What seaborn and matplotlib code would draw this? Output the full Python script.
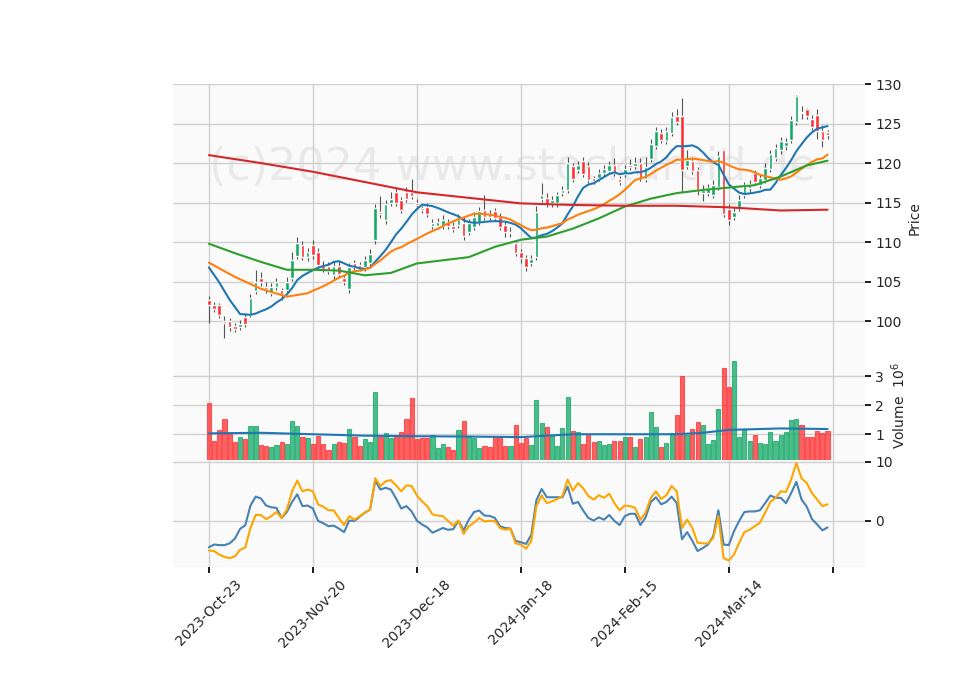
import numpy as np
import pandas as pd
import seaborn as sns
import matplotlib
matplotlib.use("Agg")
import matplotlib.pyplot as plt

# daily OHLC
opens = [102.7,102.0,102.0,100.0,100.0,99.4,99.3,100.5,100.8,103.8,
         105.4,104.3,103.6,104.3,103.9,103.9,105.5,108.3,109.6,108.1,
         109.6,108.7,107.0,107.0,105.8,107.0,105.4,104.1,107.3,107.1,
         106.8,107.3,110.3,113.8,112.8,114.9,116.3,115.3,116.4,116.4,
         115.0,114.3,114.4,112.1,112.1,112.1,112.5,112.1,112.2,112.4,
         111.3,111.9,112.6,114.1,113.6,113.9,113.2,112.2,111.1,109.9,
         108.7,108.0,107.4,108.1,115.5,115.6,114.9,114.9,116.2,116.6,
         119.6,119.1,120.2,119.6,118.1,118.1,118.7,119.0,119.7,118.0,
         118.6,119.7,119.6,120.0,118.0,120.5,122.2,123.8,122.8,123.8,
         126.0,126.0,119.6,120.2,119.1,116.2,116.2,116.0,117.0,121.6,
         114.2,113.2,114.3,116.0,116.8,118.7,117.2,117.9,119.3,120.7,
         121.6,122.1,122.9,125.2,126.5,126.9,125.6,126.1,124.1,123.9]
closes = [102.0,101.6,100.8,99.8,99.2,99.0,99.7,99.7,102.9,104.9,
          104.9,104.1,104.3,104.9,103.4,105.0,107.7,109.9,108.1,108.7,
          108.4,107.1,106.6,106.4,107.0,106.0,105.0,106.8,106.9,106.7,
          107.7,108.5,114.3,113.5,114.8,115.5,115.0,114.1,115.5,115.8,
          114.7,114.1,113.6,112.4,112.6,112.8,112.1,111.7,112.9,110.8,
          112.4,113.2,113.9,113.2,113.2,113.1,111.9,111.3,111.3,108.6,
          108.0,106.8,107.9,113.8,116.0,114.8,115.3,115.9,116.6,120.0,
          118.0,119.7,118.6,117.9,117.7,118.7,119.2,119.7,118.8,117.6,
          119.2,119.5,120.0,118.1,119.5,122.4,124.0,122.9,124.1,125.8,
          125.2,119.1,120.4,119.0,116.6,116.6,116.8,117.2,120.9,113.6,
          112.8,113.8,115.3,117.2,117.4,117.6,118.1,119.4,121.2,121.9,
          122.8,122.7,125.4,128.5,126.3,126.0,124.6,124.0,122.9,123.6]
highs = [103.2,102.4,102.3,100.6,100.4,99.8,100.1,101.0,103.4,106.5,
         106.2,104.9,104.8,105.4,104.2,105.6,108.7,110.6,110.2,109.2,
         110.3,109.2,107.6,107.5,107.6,107.6,105.9,107.3,107.8,107.5,
         108.2,109.1,114.8,115.8,115.3,116.3,116.8,115.7,117.0,118.0,
         115.5,114.6,115.0,112.9,113.1,113.4,112.9,112.6,113.6,113.2,
         112.9,113.8,114.4,116.0,114.0,114.3,113.7,112.6,111.9,110.3,
         109.1,108.4,108.4,114.6,117.5,116.2,115.8,116.4,117.1,120.8,
         120.0,120.2,120.8,120.1,118.4,119.2,119.7,120.2,120.6,118.4,
         119.7,120.5,120.8,120.7,120.8,123.0,124.6,124.3,124.6,126.4,
         126.9,128.2,121.6,120.8,119.5,117.2,117.4,117.8,121.5,121.8,
         114.8,114.5,115.9,117.6,117.9,119.1,118.6,120.0,121.7,122.4,
         123.3,123.2,125.9,128.6,127.2,127.0,126.1,126.8,124.8,124.2]
lows = [99.8,101.2,100.4,97.9,98.7,98.6,98.9,99.2,100.5,103.4,
        104.5,103.6,103.2,103.9,102.7,103.5,105.1,107.9,107.7,107.6,
        107.9,106.7,106.2,106.0,105.3,105.6,104.6,103.6,106.5,106.3,
        106.4,106.9,109.8,113.0,112.3,114.6,114.6,113.7,115.1,115.4,
        114.3,113.7,113.2,111.7,111.7,111.7,111.7,111.3,111.8,110.3,
        110.9,111.5,112.2,112.8,112.8,112.7,111.5,110.6,110.7,108.2,
        107.4,106.3,107.0,107.8,115.1,114.4,114.5,114.5,115.8,116.2,
        117.6,118.7,118.2,117.5,117.3,117.7,118.3,118.6,118.4,117.2,
        118.2,119.1,119.2,117.7,117.6,120.1,121.8,122.5,122.4,123.4,
        124.8,116.4,119.2,118.6,116.0,115.2,115.8,115.6,116.6,113.2,
        112.2,112.8,113.9,115.6,116.4,117.2,116.8,117.5,118.9,120.3,
        121.2,121.7,122.5,124.8,125.6,125.6,124.2,123.0,122.0,123.0]
# volume in millions
volumes = [2.07,.77,1.14,1.53,1.02,.73,.91,.84,1.29,1.29,
           .64,.60,.57,.64,.74,.67,1.46,1.29,.91,.88,
           .67,.95,.67,.46,.67,.74,.71,1.19,.91,.60,
           .84,.74,2.46,.91,1.05,.88,.91,1.09,1.53,2.26,
           .84,.88,.88,.98,.53,.67,.57,.46,1.15,1.46,
           .95,.88,.53,.60,.57,.95,.95,.60,.60,1.33,
           .71,.88,.64,2.19,1.40,1.26,.95,.60,1.22,2.29,
           1.12,1.09,.67,.98,.74,.77,.64,.67,.77,.77,
           .91,.91,.57,.84,.91,1.77,1.26,.57,.71,1.05,
           1.67,3.00,.98,1.19,1.43,1.33,.67,.81,1.88,3.29,
           2.64,3.53,.91,1.19,.77,.98,.71,.67,1.09,.77,
           .98,1.09,1.50,1.53,1.33,.91,.91,1.12,1.05,1.12]

# moving-average start values (history before the window)
ma10_head_idx = [0, 2, 4, 6, 8]
ma10_head = [106.8, 104.9, 102.7, 100.9, 100.8]
ma20_head_idx = [0, 5, 10, 15]
ma20_head = [107.4, 105.6, 104.1, 103.1]
# 50 and 200 day averages, sampled
ma50_idx = [0,5,10,15,20,25,30,35,40,45,50,55,60,65,70,75,80,85,90,95,100,105,110,115,119]
ma50 = [109.8,108.6,107.5,106.5,106.5,106.4,105.8,106.1,107.3,107.7,108.1,109.4,110.3,
        110.7,111.7,113.0,114.5,115.5,116.2,116.6,116.9,117.2,118.3,119.7,120.3]
ma200_idx = [0,10,20,30,40,50,60,70,80,90,100,110,119]
ma200 = [121.0,120.0,118.9,117.6,116.3,115.6,114.9,114.7,114.6,114.6,114.4,114.0,114.1]
vol_ma_idx = [0,10,20,30,40,50,60,70,80,90,95,100,110,119]
vol_ma = [1.03,1.05,1.0,0.95,0.93,0.92,0.9,1.0,1.0,1.0,1.05,1.15,1.2,1.18]

# oscillator pair (bottom panel)
osc_a = [-4.46,-4.0,-4.1,-4.1,-3.8,-3.0,-1.36,-0.73,2.6,4.1,
         3.8,2.6,2.3,2.2,0.5,1.5,3.2,4.5,2.5,2.6,
         2.1,0.0,-0.4,-0.9,-0.8,-1.3,-1.9,0.05,0.0,0.7,
         1.4,1.9,6.8,5.3,5.6,5.3,3.8,2.1,2.5,1.6,
         0.05,-0.6,-1.1,-2.0,-1.6,-1.2,-1.5,-1.4,0.0,-1.6,
         0.2,1.5,1.75,0.9,0.85,0.5,-0.9,-1.2,-1.3,-3.4,
         -3.6,-3.9,-2.4,3.5,5.4,4.0,4.0,4.0,4.0,5.8,
         2.9,3.2,1.75,0.5,0.05,0.6,0.2,1.0,0.0,-0.7,
         0.8,1.2,1.2,-0.7,0.6,3.2,4.0,2.8,3.2,4.1,
         3.0,-3.1,-1.9,-3.4,-5.1,-4.6,-4.0,-2.6,1.8,-4.0,
         -4.1,-1.75,0.0,1.5,1.6,1.6,1.8,3.0,4.3,3.9,
         3.9,3.0,4.7,6.6,3.6,2.4,0.3,-0.6,-1.6,-1.1]
osc_b = [-5.0,-5.1,-5.7,-6.1,-6.3,-6.0,-4.9,-4.5,-1.2,1.0,
         1.0,0.3,0.8,1.5,0.5,1.9,5.0,6.8,5.0,5.3,
         5.0,2.8,2.4,1.8,1.8,0.5,-0.7,0.8,0.2,0.8,
         1.4,1.9,7.2,5.9,6.7,6.9,6.0,5.0,6.0,5.9,
         4.3,3.3,2.5,1.1,0.9,0.8,0.0,-0.8,0.05,-2.2,
         -0.9,-0.3,0.5,-0.1,0.0,0.0,-1.2,-1.5,-1.3,-3.8,
         -4.0,-4.7,-3.4,2.5,4.3,3.0,3.3,3.7,4.2,7.0,
         5.1,6.4,5.5,4.2,3.6,4.35,3.9,4.6,3.0,1.8,
         2.6,2.5,2.2,0.2,1.4,3.9,5.0,3.7,4.35,5.9,
         5.0,-1.2,0.2,-1.2,-3.7,-3.8,-3.8,-2.9,0.8,-6.3,
         -6.7,-5.7,-3.7,-1.9,-1.5,-0.9,-0.3,1.4,3.2,3.9,
         5.0,4.9,7.0,9.8,7.2,6.4,4.7,3.6,2.5,2.8]

tick_pos = [0, 20, 40, 60, 80, 100, 120]
tick_labels = ["2023-Oct-23", "2023-Nov-20", "2023-Dec-18", "2024-Jan-18",
               "2024-Feb-15", "2024-Mar-14", ""]

df = pd.DataFrame({"o": opens, "h": highs, "l": lows, "c": closes, "v": volumes})
df["i"] = np.arange(len(df))
up = df["c"] >= df["o"]
UP, DOWN = "#13a866", "#fe3032"
colors = np.where(up, UP, DOWN)

# 10 and 20 day averages: chart values at the start, rolling mean afterwards
r10 = df["c"].rolling(10).mean().dropna()
r20 = df["c"].rolling(20).mean().dropna()
ma10_x = ma10_head_idx + list(r10.index)
ma10_y = ma10_head + list(r10.values)
ma20_x = ma20_head_idx + list(r20.index)
ma20_y = ma20_head + list(r20.values)

sns.set_theme(style="whitegrid", rc={"axes.facecolor": "#fafafa",
                                     "grid.color": "#d0d0d0",
                                     "axes.edgecolor": "#eeeeee"})
fig = plt.figure(figsize=(9.6, 6.9), dpi=100)
left, width = 173 / 960, (865 - 173) / 960
ax1 = fig.add_axes([left, 1 - 352 / 690, width, 268 / 690])
ax2 = fig.add_axes([left, 1 - 460 / 690, width, 108 / 690], sharex=ax1)
ax3 = fig.add_axes([left, 1 - 567 / 690, width, 107 / 690], sharex=ax1)

# candles
ax1.vlines(df["i"], df["l"], df["h"], color="#555555", lw=0.8, zorder=2)
ax1.bar(df["i"], (df["c"] - df["o"]).abs().clip(lower=0.12),
        bottom=df[["o", "c"]].min(axis=1), width=0.7, color=colors, zorder=3)

sns.lineplot(x=ma10_x, y=ma10_y, ax=ax1, color="#1f77b4", lw=1.5, zorder=4)
sns.lineplot(x=ma20_x, y=ma20_y, ax=ax1, color="#ff7f0e", lw=1.5, zorder=4)
sns.lineplot(x=ma50_idx, y=ma50, ax=ax1, color="#2ca02c", lw=1.5, zorder=4)
sns.lineplot(x=ma200_idx, y=ma200, ax=ax1, color="#d62728", lw=1.5, zorder=4)
ax1.set_ylim(96.1, 130)
ax1.set_yticks([100, 105, 110, 115, 120, 125, 130])
ax1.set_ylabel("Price", fontsize=10)
ax1.text(0, 119.5, "(c)2024 www.stockdroid.de", fontsize=32, color="#cccccc",
         alpha=0.35, ha="left", va="center", zorder=1)

# volume
ax2.bar(df["i"], df["v"], width=0.8, color=colors, alpha=0.75,
        edgecolor=colors, linewidth=0.8, zorder=3)
sns.lineplot(x=vol_ma_idx, y=vol_ma, ax=ax2, color="#1f77b4", lw=1.5, zorder=4)
ax2.set_ylim(0.11, 3.84)
ax2.set_yticks([1, 2, 3])
ax2.set_ylabel("Volume  $10^{6}$", fontsize=10)

# oscillators
sns.lineplot(x=df["i"], y=osc_a, ax=ax3, color="#4682b4", lw=1.5)
sns.lineplot(x=df["i"], y=osc_b, ax=ax3, color="#ffa500", lw=1.5)
ax3.set_ylim(-7.8, 10.3)
ax3.set_yticks([0, 10])
ax3.set_xlabel("")

for ax in (ax1, ax2, ax3):
    ax.yaxis.tick_right()
    ax.yaxis.set_label_position("right")
    ax.tick_params(axis="y", length=4, color="black", labelsize=10, right=True)
    for s in ax.spines.values():
        s.set_visible(False)
    ax.set_xlim(-6.9, 126.2)
for ax in (ax1, ax2):
    ax.tick_params(axis="x", labelbottom=False, bottom=False)
ax3.set_xticks(tick_pos)
ax3.set_xticklabels(tick_labels, rotation=45, ha="center")
ax3.tick_params(axis="x", length=4, color="black", bottom=True, labelsize=10)

fig.savefig("out.png", dpi=100)
